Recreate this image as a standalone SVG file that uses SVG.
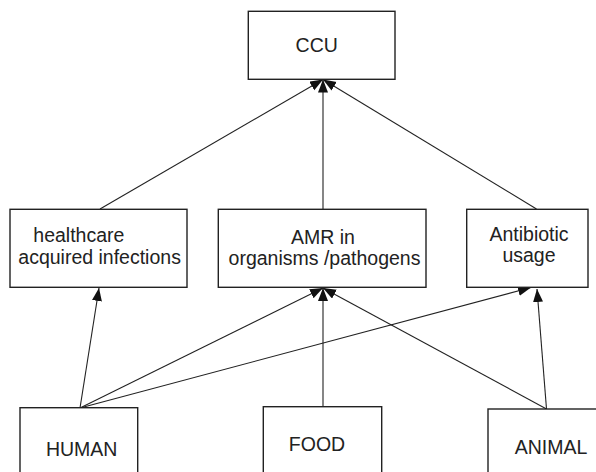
<svg xmlns="http://www.w3.org/2000/svg" width="596" height="472" viewBox="0 0 596 472">
<defs>
<style>
.box{fill:#fff;stroke:#222;stroke-width:1.4}
.lbl{font-family:"Liberation Sans",Arial,sans-serif;font-size:19.5px;fill:#222}
.edge{stroke:#222;stroke-width:1.1;fill:none}
.arr{marker-end:url(#ah)}
</style>
<marker id="ah" markerUnits="userSpaceOnUse" markerWidth="14" markerHeight="11" refX="13" refY="5" orient="auto">
<path d="M0,0 L13,5 L0,10 z" fill="#111"/>
</marker>
</defs>
<rect width="596" height="472" fill="#fff"/>
<g id="connectors">
<line class="edge arr" x1="100" y1="209" x2="323" y2="79.5"/>
<line class="edge arr" x1="323" y1="209" x2="323" y2="79.5"/>
<line class="edge arr" x1="536.5" y1="209" x2="323" y2="79.5"/>
<line class="edge arr" x1="80" y1="408" x2="99" y2="288"/>
<line class="edge arr" x1="80" y1="408" x2="323" y2="288"/>
<line class="edge arr" x1="80" y1="408" x2="531" y2="287.5"/>
<line class="edge arr" x1="323" y1="407" x2="323" y2="288"/>
<line class="edge arr" x1="546.5" y1="409" x2="323" y2="288"/>
<line class="edge arr" x1="546.5" y1="409" x2="537" y2="289"/>
</g>
<g id="ccu">
<rect class="box" x="248.3" y="11.3" width="146.7" height="68"/>
<text class="lbl" x="316.7" y="51.7" text-anchor="middle">CCU</text>
</g>
<g id="healthcare">
<rect class="box" x="10" y="209.3" width="177" height="78"/>
<text class="lbl" x="33.3" y="241.5">healthcare</text>
<text class="lbl" x="18.3" y="263.5">acquired infections</text>
</g>
<g id="amr">
<rect class="box" x="218.3" y="209.3" width="207.7" height="78"/>
<text class="lbl" x="323" y="244.3" text-anchor="middle">AMR in</text>
<text class="lbl" x="324.5" y="264.5" text-anchor="middle">organisms /pathogens</text>
</g>
<g id="antibiotic">
<rect class="box" x="466.7" y="209.3" width="121.3" height="78"/>
<text class="lbl" x="529" y="240.7" text-anchor="middle">Antibiotic</text>
<text class="lbl" x="529" y="262" text-anchor="middle">usage</text>
</g>
<g id="human">
<rect class="box" x="20" y="407.7" width="117.7" height="80"/>
<text class="lbl" x="81.7" y="455.7" text-anchor="middle">HUMAN</text>
</g>
<g id="food">
<rect class="box" x="263.3" y="406.7" width="118.4" height="80"/>
<text class="lbl" x="317" y="450.7" text-anchor="middle">FOOD</text>
</g>
<g id="animal">
<rect class="box" x="488" y="409" width="130" height="80"/>
<text class="lbl" x="551" y="454.3" text-anchor="middle">ANIMAL</text>
</g>
</svg>
